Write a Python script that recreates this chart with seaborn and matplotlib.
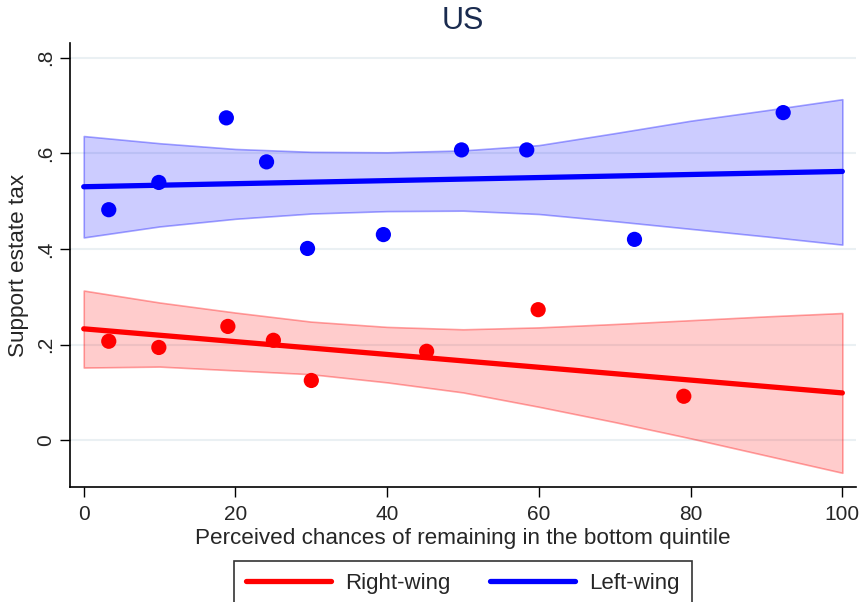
import matplotlib
matplotlib.use("Agg")
import matplotlib.pyplot as plt
from matplotlib.lines import Line2D
import seaborn as sns
import pandas as pd

# ---- data ----
left_x = [3.3, 9.9, 18.8, 24.1, 29.5, 39.5, 49.8, 58.4, 72.6, 92.2]
left_y = [0.482, 0.539, 0.674, 0.582, 0.401, 0.430, 0.607, 0.607, 0.420, 0.685]

right_x = [3.3, 9.9, 19.0, 25.0, 30.0, 45.2, 59.9, 79.1]
right_y = [0.207, 0.194, 0.238, 0.209, 0.125, 0.186, 0.273, 0.092]

fit_x = [0, 100]
left_fit = [0.530, 0.562]
right_fit = [0.233, 0.099]

ci_x = [0, 10, 20, 30, 40, 50, 60, 70, 80, 90, 100]
left_ci_hi = [0.636, 0.621, 0.609, 0.603, 0.602, 0.606, 0.617, 0.642, 0.668, 0.690, 0.713]
left_ci_lo = [0.424, 0.447, 0.463, 0.474, 0.479, 0.480, 0.473, 0.458, 0.442, 0.426, 0.409]
right_ci_hi = [0.313, 0.288, 0.267, 0.248, 0.237, 0.232, 0.236, 0.243, 0.251, 0.259, 0.266]
right_ci_lo = [0.152, 0.154, 0.146, 0.138, 0.121, 0.100, 0.070, 0.038, 0.004, -0.032, -0.068]

x_ticks = [0, 20, 40, 60, 80, 100]
y_ticks = [0, 0.2, 0.4, 0.6, 0.8]
y_tick_labels = ["0", ".2", ".4", ".6", ".8"]

title = "US"
x_label = "Perceived chances of remaining in the bottom quintile"
y_label = "Support estate tax"
legend_labels = ["Right-wing", "Left-wing"]

RED = "#ff0000"
BLUE = "#0000ff"

sns.set_theme(style="white")
plt.rcParams["font.family"] = ["Liberation Sans", "DejaVu Sans"]

fig = plt.figure(figsize=(8.62, 6.02), dpi=100)
ax = fig.add_axes([70 / 862, 1 - 487 / 602, 786 / 862, 444 / 602])

# grid
for yt in y_ticks:
    ax.axhline(yt, color="#eaf0f3", lw=1.5, zorder=0)

# confidence bands
ax.fill_between(ci_x, right_ci_lo, right_ci_hi, facecolor=(1, 0, 0, 0.2),
                edgecolor=(1, 0, 0, 0.35), lw=1.2, zorder=1)
ax.fill_between(ci_x, left_ci_lo, left_ci_hi, facecolor=(0, 0, 1, 0.2),
                edgecolor=(0, 0, 1, 0.35), lw=1.2, zorder=1)

# scatter points
df_l = pd.DataFrame({"x": left_x, "y": left_y})
df_r = pd.DataFrame({"x": right_x, "y": right_y})
sns.scatterplot(data=df_l, x="x", y="y", ax=ax, color=BLUE, s=120,
                edgecolor="none", zorder=3)
sns.scatterplot(data=df_r, x="x", y="y", ax=ax, color=RED, s=120,
                edgecolor="none", zorder=3)

# fit lines
sns.lineplot(x=fit_x, y=left_fit, ax=ax, color=BLUE, lw=3.8, zorder=4)
sns.lineplot(x=fit_x, y=right_fit, ax=ax, color=RED, lw=3.8, zorder=4)

ax.set_xlim(-1.81, 101.8)
ax.set_ylim(-0.0977, 0.8305)
ax.set_xticks(x_ticks)
ax.set_xticklabels([str(v) for v in x_ticks], fontsize=15)
ax.set_yticks(y_ticks)
ax.set_yticklabels(y_tick_labels, fontsize=15, rotation=90, va="center")
ax.tick_params(axis="both", direction="out", length=7, width=1.0,
               color="black", bottom=True, left=True)
ax.tick_params(axis="x", pad=6)
ax.tick_params(axis="y", pad=4)

for s in ["top", "right"]:
    ax.spines[s].set_visible(False)
for s in ["left", "bottom"]:
    ax.spines[s].set_color("black")
    ax.spines[s].set_linewidth(1.2)

ax.set_xlabel(x_label, fontsize=16.2, labelpad=3)
ax.set_ylabel(y_label, fontsize=16.2, labelpad=5)
ax.set_title(title, fontsize=22, color="#1a2b4f", pad=10)

handles = [Line2D([0], [0], color=RED, lw=3.8),
           Line2D([0], [0], color=BLUE, lw=3.8)]
leg = fig.legend(handles, legend_labels, loc="upper center",
                 bbox_to_anchor=(463 / 862, 1 - 561 / 602), ncol=2,
                 fontsize=16, frameon=True, fancybox=False, edgecolor="black",
                 handlelength=3.8, handletextpad=0.65, columnspacing=1.8,
                 borderpad=0.55, borderaxespad=0)
leg.get_frame().set_linewidth(1.2)

fig.savefig("out.png", dpi=100)
